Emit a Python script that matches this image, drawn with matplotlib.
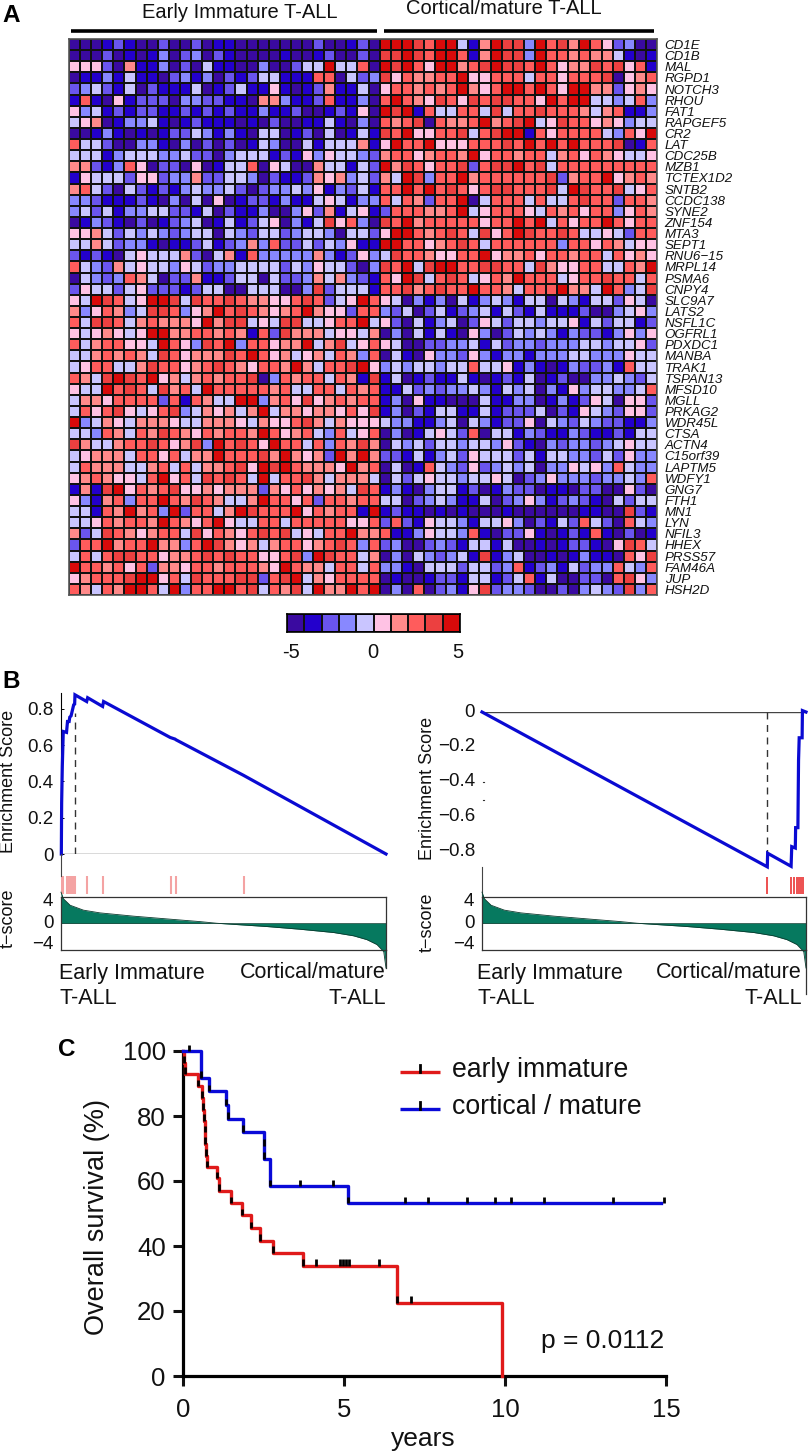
import numpy as np
import matplotlib
matplotlib.use("Agg")
import matplotlib.pyplot as plt
from matplotlib.colors import ListedColormap
from matplotlib.transforms import ScaledTranslation

plt.rcParams['font.family'] = ['Liberation Sans', 'DejaVu Sans']
W, H = 810, 1453

# panel A: colour level (0-9) per cell, early immature columns then cortical/mature columns
genes = ["CD1E", "CD1B", "MAL", "RGPD1", "NOTCH3", "RHOU", "FAT1", "RAPGEF5", "CR2", "LAT",
         "CDC25B", "MZB1", "TCTEX1D2", "SNTB2", "CCDC138", "SYNE2", "ZNF154", "MTA3", "SEPT1",
         "RNU6\u221215", "MRPL14", "PSMA6", "CNPY4", "SLC9A7", "LATS2", "NSFL1C", "OGFRL1",
         "PDXDC1", "MANBA", "TRAK1", "TSPAN13", "MFSD10", "MGLL", "PRKAG2", "WDR45L", "CTSA",
         "ACTN4", "C15orf39", "LAPTM5", "WDFY1", "GNG7", "FTH1", "MN1", "LYN", "NFIL3", "HHEX",
         "PRSS57", "FAM46A", "JUP", "HSH2D"]
early = """00012 10020 02011 00000 00200 120
00020 10130 23021 00001 00120 020
55520 61130 20411 00300 24494 470
01131 41102 31302 12441 11770 423
23421 40211 14012 41151 01261 140
17105 12220 33221 10663 11271 130
53412 12211 21212 11311 20012 150
45601 33410 12111 01020 01141 030
00131 01012 24313 10440 12040 141
74420 03310 30202 01430 04144 461
44413 44433 42203 44412 15354 432
66213 75022 05014 47054 00644 142
15444 25523 36224 43021 12656 342
67420 42121 34334 20233 43513 241
33211 12103 04050 12213 11454 133
34241 33442 21402 11300 35261 451
01321 02012 34014 12450 31485 730
55642 43432 34404 32442 34430 442
44642 33101 12412 36372 24243 511
21210 45444 62046 17333 33631 253
74326 45443 54233 44442 43544 203
04323 76402 26112 44042 23646 321
25442 45222 12440 04440 03824 441
54987 45998 48778 76655 78724 597
63576 34887 35697 87656 79655 277
74887 46766 65968 84548 84457 794
54565 45996 67767 61728 66645 546
74677 55497 53879 37756 69468 457
44676 76487 56668 79756 45647 637
45774 46877 56787 65776 96477 895
76489 87956 46767 78037 67747 618
54497 87486 74977 77767 44774 767
46657 77727 17644 99367 58567 677
47578 54578 34656 46946 65665 758
93465 46665 44666 54655 78646 555
44376 47687 65767 76975 67437 457
86446 77875 68397 87597 74737 686
45666 47757 46697 77869 65629 696
47666 44674 74667 85989 76665 967
56765 54795 74878 74947 78646 664
16189 57678 55656 66265 75656 487
53167 37797 68764 46977 57277 677
44176 96739 27746 98777 95767 719
44576 77697 65795 44774 77777 557
62487 65677 48576 57878 45477 966
27796 77966 37986 56467 75678 737
47478 87756 67878 77557 83987 746
97767 57266 57767 77659 76647 747
56777 89957 48777 88278 94657 777
76476 99749 37799 78476 84966 979"""
late = """99987 99416 98839 78697 52300
88987 99716 98839 77676 64101
98975 99678 98879 75668 78571
85766 77955 77747 75777 80567
57767 67965 79979 75996 62565
79765 87587 88775 97994 43473
98917 44774 84778 77764 67113
76780 76679 67894 58775 65344
87955 77847 89917 57777 43759
59779 55577 78797 97977 78017
67756 77695 77677 46757 65445
96875 77827 88978 47777 77777
64983 77967 77777 82677 95676
77979 78757 88777 84987 78457
74762 77904 77747 44787 72776
27776 67945 77754 76757 73576
87967 77775 77979 47577 97577
59976 78748 57987 78744 54277
99775 67874 77777 73775 76455
48776 55779 56675 77677 47565
87948 99778 87748 65577 44769
75984 78745 76977 74577 87747
77867 87797 76477 79664 97348
54031 30413 43144 04314 42540
32402 41234 14214 11120 03453
52041 34025 42443 44514 24412
03041 41053 02434 31322 13535
54002 23341 42332 33344 34452
04105 33253 13313 33443 33544
34344 34474 45131 01322 31744
14012 11410 12140 12003 34324
11423 23343 14340 31534 43347
13051 10004 11330 13125 40552
13021 44114 12224 02154 32552
43311 34043 12250 43243 22113
03014 54270 44132 11321 12144
04342 44344 35210 32332 34544
22141 34254 44241 44332 42533
04017 43252 34340 33545 37433
04245 44344 54023 53332 33437
13103 44120 13220 11022 00520
44023 43114 02353 12321 04244
12110 10100 01000 00011 00821
27215 44314 45302 14274 20743
71135 44371 02251 01217 10201
23002 32144 14001 01221 05874
03043 23418 13400 10131 10758
33104 44244 23712 31423 37437
01001 22144 12471 40022 07853
03070 23158 23320 02034 32837"""

level_colors = ["#3a0aa0", "#2300cc", "#6a55ee", "#8888ff", "#c9c5ff",
                "#ffc2e4", "#ff8a8a", "#ff5c5c", "#ec4040", "#d80a0a"]
cbar_levels = [0, 1, 2, 3, 4, 5, 6, 7, 8, 9]

# panel B
pos_rank = [0.1, 0.2, 0.4, 0.7, 1.7, 2.0, 2.5, 2.7, 3.1, 3.9, 4.2, 4.3, 7.9, 8.2, 12.8, 13.1, 33.6, 35.1, 35.4, 56.2, 100]
pos_es = [0, 0.281, 0.483, 0.675, 0.670, 0.730, 0.730, 0.754, 0.761, 0.822, 0.826, 0.877, 0.840, 0.861, 0.813, 0.840, 0.642, 0.633, 0.629, 0.433, 0]
pos_hits = [0.1, 0.4, 0.7, 1.7, 2.1, 2.5, 2.9, 3.3, 3.7, 4.1, 4.4, 8.0, 12.9, 33.9, 35.3, 56.3]
neg_rank = [0, 88.05, 88.16, 95.4, 95.6, 96.7, 96.8, 97.5, 97.7, 97.9, 98.8, 98.9, 100]
neg_es = [0, -0.889, -0.811, -0.886, -0.773, -0.781, -0.664, -0.664, -0.276, -0.148, -0.148, 0.008, 0]
neg_hits = [88.1, 95.4, 96.4, 97.1, 97.7, 98.4, 99.0]
t_rank = [0, 0.3, 0.7, 2.8, 6.9, 12, 22.3, 32.5, 42.8, 47.9, 63.3, 73.6, 83.9, 90, 94.1, 97.2, 99.3, 100]
t_score = [5.7, 5.2, 4.5, 3.3, 2.4, 1.9, 1.3, 0.8, 0.3, 0, -0.6, -1.1, -1.7, -2.3, -3.0, -3.9, -5.2, -8.2]

# panel C
red_t = [0, 0.02, 0.05, 0.47, 0.6, 0.62, 0.64, 0.67, 0.69, 0.72, 0.76, 1.06, 1.12, 1.48, 1.84, 2.12, 2.38, 2.8, 3.73, 6.65, 9.9]
red_s = [100, 96.4, 93, 89.2, 85.6, 82, 78.5, 75, 71.4, 67.8, 64.3, 60.8, 57, 53.2, 49.5, 45.5, 41.6, 37.9, 34, 22.6, 0]
red_cens_t = [4.13, 4.89, 4.97, 5.05, 5.15, 6.09, 7.07]
red_cens_s = [34, 34, 34, 34, 34, 34, 22.6]
blue_t = [0, 0.57, 0.8, 1.32, 1.4, 1.87, 2.5, 2.52, 2.7, 5.12, 14.85]
blue_s = [100, 91.7, 87.6, 83.3, 79.2, 75.1, 70.8, 66.8, 58.4, 53.1, 53.1]
blue_cens_t = [0.2, 6.9, 7.6, 8.81, 9.7, 10.2, 11.2, 13.35, 14.93, 3.62, 4.66]
blue_cens_s = [100, 53.1, 53.1, 53.1, 53.1, 53.1, 53.1, 53.1, 53.1, 58.4, 58.4]

fig = plt.figure(figsize=(W / 100, H / 100), dpi=100, facecolor="white")


def px_axes(x0, y0, x1, y1):
    return fig.add_axes([x0 / W, 1 - y1 / H, (x1 - x0) / W, (y1 - y0) / H])


def lift_labels(labels, px):
    # tick labels in the original sit a little above their tick
    for lab in labels:
        lab.set_transform(lab.get_transform() + ScaledTranslation(0, px / 100, fig.dpi_scale_trans))


# ---- A
rows = [(a + b).replace(" ", "") for a, b in zip(early.split("\n"), late.split("\n"))]
matrix = np.array([[int(c) for c in r] for r in rows])
cmap = ListedColormap(level_colors)
ax = px_axes(69, 39, 657, 595)
ax.pcolormesh(matrix, cmap=cmap, vmin=-0.5, vmax=9.5, edgecolors="#111111", linewidth=1.1)
ax.invert_yaxis()
ax.yaxis.tick_right()
ax.set_yticks(np.arange(len(genes)) + 0.5)
ax.set_yticklabels(genes, fontsize=9.6, style="italic", color="#111111")
ax.tick_params(axis="y", length=0, pad=5.5)
ax.set_xticks([])
for s in ax.spines.values():
    s.set_color("#555555")
    s.set_linewidth(1.2)

cax = px_axes(287, 614, 460, 632)
cax.pcolormesh(np.array([cbar_levels]), cmap=cmap, vmin=-0.5, vmax=9.5, edgecolors="#111111", linewidth=1.1)
cax.set_xticks([])
cax.set_yticks([])
for s in cax.spines.values():
    s.set_linewidth(1.2)


# ---- B
def enrichment(x0, x1, es_top, es_bottom, rank, es, hits, hit_color, ticks, peak, right_bottom):
    positive = es_top > 0.5
    top = 693 if positive else 712
    bottom = 854 if positive else 867
    a = px_axes(x0, top, x1, bottom)
    a.plot(rank, es, color="#0a0ad2", lw=2.3, solid_joinstyle="miter", clip_on=False, zorder=3)
    a.axhline(0, color="#444444", lw=1.0)
    a.set_xlim(0, 100)
    a.set_ylim(es_bottom, es_top)
    a.plot([peak[0], peak[0]], [0, peak[1]], color="#333333", lw=1.0, dashes=(5, 4))
    a.set_xticks([])
    a.set_yticks(ticks)
    a.set_yticklabels([("%g" % t).replace("-", "\u2212") for t in ticks], fontsize=13.5, color="#111111")
    a.tick_params(axis="y", direction="in", length=2, width=0.7, pad=5.5)
    for s in ["top", "right", "bottom", "left"]:
        a.spines[s].set_visible(False)
    if positive:
        a.spines["left"].set_visible(True)
        a.spines["left"].set_linewidth(0.8)
    else:
        a.tick_params(axis="y", length=0, pad=5)
        a.plot([0.3, 0.7], [-0.40, -0.40], color="#333333", lw=0.8)
        a.plot([0.3, 0.7], [-0.505, -0.505], color="#333333", lw=0.8)
        lift_labels(a.get_yticklabels(), 2)

    r = px_axes(x0, bottom, x1, 894)
    r.vlines(hits, 0.0, 0.45 if positive else 0.63, color=hit_color, lw=1.5 if positive else 1.1)
    r.set_xlim(0, 100)
    r.set_ylim(0, 1)
    r.axis("off")
    r.plot([0, 0], [0.45, 1] if positive else [-0.1, 1], color="#444444", lw=0.8, clip_on=False)

    t = px_axes(x0, 896.5, x1, 950)
    t.fill_between(t_rank, t_score, 0, color="#06795f", lw=0, clip_on=False, zorder=2)
    t.plot(t_rank, t_score, color="#0b3a2e", lw=0.6, clip_on=False, zorder=3)
    t.plot([100, 100], [-4.9, right_bottom], color="#333333", lw=0.9, clip_on=False)
    t.axhline(0, color="#0b3a2e", lw=0.5)
    t.set_xlim(0, 100)
    t.set_ylim(-4.9, 4.9)
    t.set_xticks([])
    t.set_yticks([3.9, 0, -3.9])
    t.set_yticklabels(["4", "0", "\u22124"], fontsize=13.5, color="#111111")
    t.tick_params(axis="y", length=0, pad=5.5)
    lift_labels(t.get_yticklabels(), 2)
    for s in t.spines.values():
        s.set_linewidth(0.9)
        s.set_color("#333333")
    return a


enrichment(61, 386, 0.887, 0, pos_rank, pos_es, pos_hits, "#f4a3a3", [0, 0.2, 0.4, 0.6, 0.8], (4.3, 0.776), -8.2)
enrichment(482, 806, 0, -0.89, neg_rank, neg_es, neg_hits, "#e82020", [0, -0.2, -0.4, -0.6, -0.8], (88.05, -0.889), -12.9)

# ---- C
ax = px_axes(183, 1051, 666, 1376)
ax.step(red_t, red_s, where="post", color="#e01a1a", lw=2.4, clip_on=False, zorder=3)
ax.step(blue_t, blue_s, where="post", color="#0a0ad8", lw=2.4, clip_on=False, zorder=3)
ax.vlines(red_cens_t + red_t[1:-1], red_cens_s + red_s[1:-1],
          np.array(red_cens_s + red_s[1:-1]) + 2.0, color="black", lw=2.0, zorder=4)
ax.vlines(blue_cens_t + blue_t[1:-1], blue_cens_s + blue_s[1:-1],
          np.array(blue_cens_s + blue_s[1:-1]) + 2.0, color="black", lw=2.0, zorder=4, clip_on=False)
ax.set_xlim(0, 15)
ax.set_ylim(0, 100)
ax.set_xticks([0, 5, 10, 15])
ax.set_yticks([0, 20, 40, 60, 80, 100])
ax.tick_params(labelsize=18.5, length=7.5, width=2.2, pad=5, colors="#111111")
ax.tick_params(axis="x", pad=8)
for s in ["top", "right"]:
    ax.spines[s].set_visible(False)
for s in ["left", "bottom"]:
    ax.spines[s].set_linewidth(2.3)
    ax.spines[s].set_capstyle("projecting")

# ---- pixel overlay for titles, panel letters and legend
ov = fig.add_axes([0, 0, 1, 1], zorder=10)
ov.set_xlim(0, W)
ov.set_ylim(H, 0)
ov.axis("off")
ov.plot([71, 377], [31, 31], color="black", lw=2.6, solid_capstyle="butt")
ov.plot([384, 654], [31, 31], color="black", lw=2.6, solid_capstyle="butt")
ov.text(239.5, 12, "Early Immature T-ALL", fontsize=14.5, ha="center", va="center", color="#111111")
ov.text(504, 9, "Cortical/mature T-ALL", fontsize=14.5, ha="center", va="center", color="#111111")
for x, s in [(291, "-5"), (373, "0"), (458, "5")]:
    ov.text(x, 652, s, fontsize=14.5, ha="center", va="center", color="#111111")
for x, y, s in [(2, 16, "A"), (2, 682, "B"), (58, 1049, "C")]:
    ov.text(x, y, s, fontsize=17.5, fontweight="bold", ha="left", va="center", color="black")
for x, y_es, y_t, lab_l, lab_r in [(8.5, 781, 918, 59, 386), (427, 788, 922, 477, 802)]:
    ov.text(x, y_es, "Enrichment Score", fontsize=13, rotation=90, ha="center", va="center", color="#111111")
    ov.text(x, y_t, "t\u2212score", fontsize=13, rotation=90, ha="center", va="center", color="#111111")
    ov.text(lab_l, 973, "Early Immature", fontsize=15.5, ha="left", va="center", color="#111111")
    ov.text(lab_l, 998, "T-ALL", fontsize=15.5, ha="left", va="center", color="#111111")
    ov.text(lab_r, 973, "Cortical/mature", fontsize=15.5, ha="right", va="center", color="#111111")
    ov.text(lab_r, 998, "T-ALL", fontsize=15.5, ha="right", va="center", color="#111111")
ov.text(97, 1217, "Overall survival (%)", fontsize=19.5, rotation=90, ha="center", va="center", color="#111111")
ov.text(423, 1439, "years", fontsize=19, ha="center", va="center", color="#111111")
ov.text(603, 1341, "p = 0.0112", fontsize=19, ha="center", va="center", color="#111111")
for y, c, s in [(1072, "#e01a1a", "early immature"), (1109, "#0a0ad8", "cortical / mature")]:
    ov.plot([400, 440], [y, y], color=c, lw=2.4, solid_capstyle="butt")
    ov.plot([420, 420], [y, y - 7], color="black", lw=2.0)
    ov.text(452, y - 2, s, fontsize=19.2, ha="left", va="center", color="#111111")

fig.savefig("out.png", dpi=100)
